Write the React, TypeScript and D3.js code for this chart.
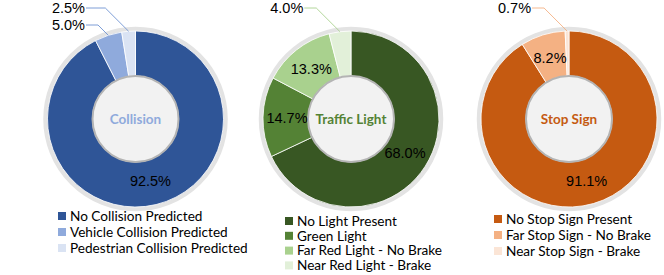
import React from 'react';
import * as d3 from 'd3';

// collision
const collisionLabels = ['No Collision Predicted', 'Vehicle Collision Predicted', 'Pedestrian Collision Predicted'];
const collisionValues = [92.5, 5.0, 2.5];
const collisionColors = ['#2f5597', '#8faadc', '#dae3f3'];

// traffic light
const lightLabels = ['No Light Present', 'Green Light', 'Far Red Light - No Brake', 'Near Red Light - Brake'];
const lightValues = [68.0, 14.7, 13.3, 4.0];
const lightColors = ['#385723', '#548235', '#a9d18e', '#e2f0d9'];

// stop sign
const stopLabels = ['No Stop Sign Present', 'Far Stop Sign - No Brake', 'Near Stop Sign - Brake'];
const stopValues = [91.1, 8.2, 0.7];
const stopColors = ['#c55a11', '#f4b183', '#fbe5d6'];

const W = 664;
const H = 275;
const R = 88;
const R_IN = 43;

const charts = [
  { title: 'Collision', titleColor: '#8faadc', labels: collisionLabels, values: collisionValues, colors: collisionColors, lineColor: '#6f93d2', cx: 135.5, legendX: 58, legendY: 216, legendStep: 16 },
  { title: 'Traffic Light', titleColor: '#548235', labels: lightLabels, values: lightValues, colors: lightColors, lineColor: '#a9d18e', cx: 351, legendX: 285, legendY: 221, legendStep: 14.8 },
  { title: 'Stop Sign', titleColor: '#c55a11', labels: stopLabels, values: stopValues, colors: stopColors, lineColor: '#f4b183', cx: 569, legendX: 494, legendY: 219, legendStep: 16 },
];

const CY = 119;

function Donut({ chart }) {
  const pie = d3.pie<number>().sort(null).value((d) => d);
  const arcs = pie(chart.values);
  const arc = d3.arc<d3.PieArcDatum<number>>().innerRadius(R_IN).outerRadius(R);
  const labelArc = d3.arc<d3.PieArcDatum<number>>().innerRadius(R_IN + 21).outerRadius(R_IN + 21);

  // small slices get a leader line out to the top left, last slice on top
  const outside = arcs.filter((a) => a.data < 6).reverse();
  const elbows = outside.map((a) => {
    const mid = (a.startAngle + a.endAngle) / 2;
    const px = Math.sin(mid) * R;
    const py = -Math.cos(mid) * R;
    return { a, px, py };
  });
  const ly = (i) => 8 - CY + i * 17;
  const ex = elbows.map((e, i) => e.px - (e.py - ly(i)));
  const textX = ex.length ? d3.min(ex) - 13 : 0;

  return (
    <g transform={`translate(${chart.cx},${CY})`}>
      <circle r={R + 2} fill="none" stroke="#e3e3e3" strokeWidth={4.5} />
      {arcs.map((a, i) => (
        <path key={i} d={arc(a)} fill={chart.colors[i]} stroke="#fff" strokeWidth={0.8} />
      ))}
      <circle r={R_IN} fill="#f2f2f2" stroke="#b4b4b4" strokeWidth={2} />
      <text
        y={0}
        dy="0.35em"
        textAnchor="middle"
        fontFamily="Lato, 'Open Sans', sans-serif"
        fontWeight="bold"
        fontSize={13.5}
        fill={chart.titleColor}
      >
        {chart.title}
      </text>
      {arcs
        .filter((a) => a.data >= 6)
        .map((a, i) => {
          const [x, y] = labelArc.centroid(a);
          return (
            <text
              key={i}
              x={x}
              y={y}
              dy="0.35em"
              textAnchor="middle"
              fontFamily="'Liberation Sans', Arial, sans-serif"
              fontSize={14.5}
              fill="#000"
            >
              {a.data.toFixed(1)}%
            </text>
          );
        })}
      {elbows.map((e, i) => (
        <g key={i}>
          <polyline
            points={`${e.px},${e.py} ${ex[i]},${ly(i)} ${textX + 1},${ly(i)}`}
            fill="none"
            stroke={chart.lineColor}
            strokeWidth={0.9}
          />
          <text
            x={textX}
            y={ly(i)}
            dy="0.35em"
            textAnchor="end"
            fontFamily="'Liberation Sans', Arial, sans-serif"
            fontSize={14.5}
            fill="#000"
          >
            {e.a.data.toFixed(1)}%
          </text>
        </g>
      ))}
    </g>
  );
}

function Legend({ chart }) {
  return (
    <g transform={`translate(${chart.legendX},${chart.legendY})`}>
      {chart.labels.map((l, i) => (
        <g key={i} transform={`translate(0,${i * chart.legendStep})`}>
          <rect x={0} y={-4} width={8} height={8} fill={chart.colors[i]} />
          <text x={12} dy="0.35em" fontFamily="Lato, 'Open Sans', sans-serif" fontSize={13.6} fill="#000">
            {l}
          </text>
        </g>
      ))}
    </g>
  );
}

export default function App() {
  return (
    <svg width={W} height={H} style={{ position: 'absolute', left: 0, top: 0, background: '#fff' }}>
      {charts.map((c, i) => (
        <g key={i}>
          <Donut chart={c} />
          <Legend chart={c} />
        </g>
      ))}
    </svg>
  );
}
